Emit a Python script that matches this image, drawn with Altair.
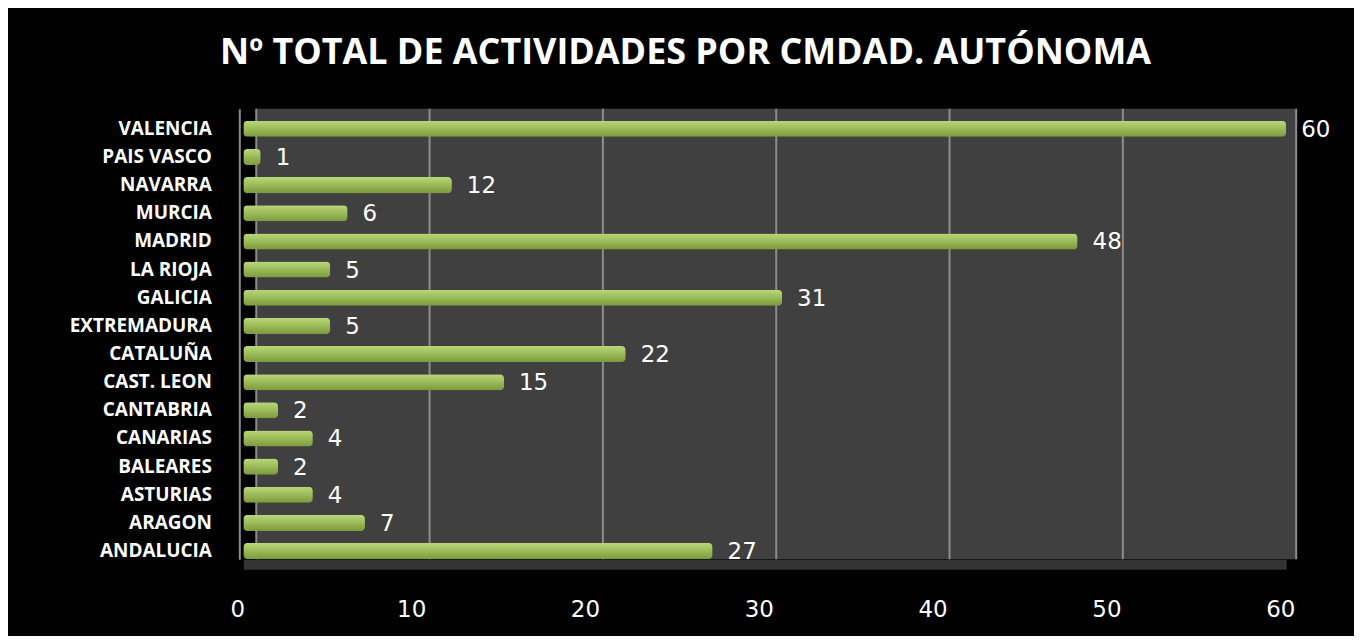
import altair as alt
import pandas as pd

regions = ["VALENCIA", "PAIS VASCO", "NAVARRA", "MURCIA", "MADRID", "LA RIOJA",
           "GALICIA", "EXTREMADURA", "CATALUÑA", "CAST. LEON", "CANTABRIA",
           "CANARIAS", "BALEARES", "ASTURIAS", "ARAGON", "ANDALUCIA"]
values = [60, 1, 12, 6, 48, 5, 31, 5, 22, 15, 2, 4, 2, 4, 7, 27]
x_ticks = [0, 10, 20, 30, 40, 50, 60]

df = pd.DataFrame({"region": regions, "value": values})
grid_df = pd.DataFrame({"tick": x_ticks})

W, H = 1043, 452
DEPTH = 13  # 3D depth offset of the back wall

bar_x = alt.Scale(domain=[0, 60], nice=False, zero=True, range=[-DEPTH, W - 10])
wall_x = alt.Scale(domain=[0, 60], nice=False, zero=True)
ysort = regions

grad = alt.Gradient(
    gradient="linear",
    stops=[alt.GradientStop(color="#b9d779", offset=0),
           alt.GradientStop(color="#9bbb59", offset=0.5),
           alt.GradientStop(color="#7a9a3c", offset=1)],
    x1=0, x2=0, y1=0, y2=1,
)

grid = alt.Chart(grid_df).mark_rule(color="#8c8c8c", strokeWidth=2).encode(
    x=alt.X("tick:Q", scale=wall_x, axis=None)
)

bars = alt.Chart(df).mark_bar(
    color=grad, cornerRadius=4, yOffset=6
).encode(
    x=alt.X("value:Q", scale=bar_x,
            axis=alt.Axis(values=x_ticks, title=None, grid=False,
                          domain=True, domainColor="#333333", domainWidth=10,
                          offset=5, labelFlush=False,
                          ticks=False, labelColor="white",
                          labelFont="DejaVu Sans", labelFontSize=23, labelPadding=34,
                          labelOffset=-6)),
    y=alt.Y("region:N", sort=ysort, scale=alt.Scale(paddingInner=0.43, paddingOuter=0.22),
            axis=alt.Axis(title=None, domain=True, domainColor="#8c8c8c", domainWidth=2,
                          offset=17, ticks=False, labelColor="white",
                          labelFont="Open Sans", labelFontWeight="bold", labelFontSize=19,
                          labelPadding=28, labelOffset=6)),
)

labels = alt.Chart(df).mark_text(
    align="left", baseline="middle", dx=15, dy=7, color="white",
    font="DejaVu Sans", fontSize=23
).encode(
    x=alt.X("value:Q", scale=bar_x, axis=None),
    y=alt.Y("region:N", sort=ysort),
    text="value:Q",
)

chart = alt.layer(grid, bars, labels).resolve_scale(x="independent").properties(
    width=W, height=H,
    background="black",
    padding={"left": 249, "top": 100, "right": 58, "bottom": 76},
    autosize=alt.AutoSizeParams(type="none"),
    title=alt.TitleParams(
        "Nº TOTAL DE ACTIVIDADES POR CMDAD. AUTÓNOMA",
        color="white", font="Open Sans", fontWeight="bold", fontSize=36,
        anchor="middle", dx=-91, offset=36,
    ),
).configure_view(fill="#404040", stroke=None)

chart.save("out.html", embed_options={"renderer": "svg", "actions": False})
